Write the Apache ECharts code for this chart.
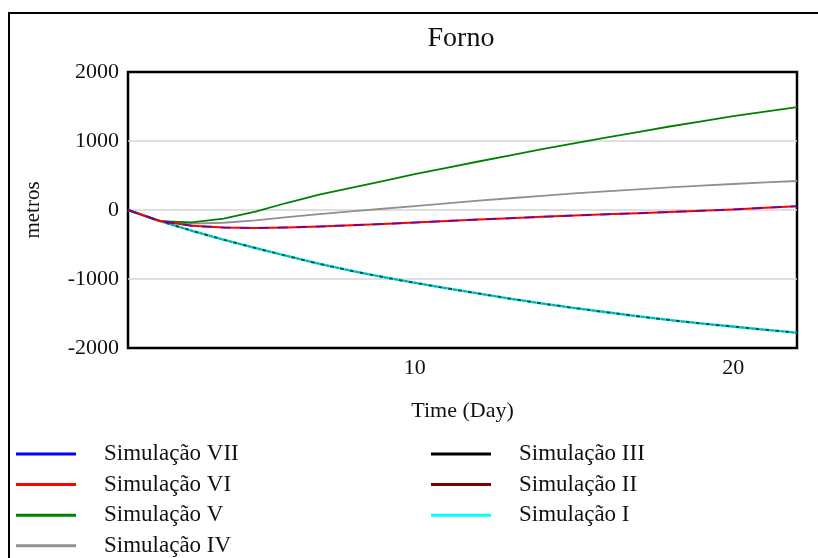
<!DOCTYPE html>
<html><head><meta charset="utf-8">
<script src="https://cdn.jsdelivr.net/npm/echarts@6/dist/echarts.min.js"></script>
<style>html,body{margin:0;padding:0;background:#fff}#c{width:818px;height:558px}</style>
</head><body><div id="c"></div>
<script>
const days = [1,2,3,4,5,6,7,8,9,10,11,12,13,14,15,16,17,18,19,20,21,22];
const xTicks = [10, 20];
const yTicks = [-2000, -1000, 0, 1000, 2000];

const simVII = [0,-160,-228,-255,-262,-253,-240,-222,-203,-182,-160,-139,-118,-99,-80,-63,-46,-29,-11,8,32,56];
const simVI  = [0,-160,-228,-255,-262,-253,-240,-222,-203,-182,-160,-139,-118,-99,-80,-63,-46,-29,-11,8,32,56];
const simV   = [0,-160,-180,-125,-25,105,222,322,418,520,612,703,793,882,966,1050,1130,1210,1285,1360,1425,1490];
const simIV  = [0,-160,-198,-185,-150,-103,-60,-20,18,55,95,135,170,205,240,270,300,328,353,377,400,420];
const simIII = [0,-160,-300,-430,-550,-668,-780,-880,-972,-1055,-1135,-1210,-1285,-1355,-1420,-1480,-1540,-1595,-1645,-1690,-1735,-1778];
const simII  = [0,-160,-300,-430,-550,-668,-780,-880,-972,-1055,-1135,-1210,-1285,-1355,-1420,-1480,-1540,-1595,-1645,-1690,-1735,-1778];
const simI   = [0,-160,-300,-430,-550,-668,-780,-880,-972,-1055,-1135,-1210,-1285,-1355,-1420,-1480,-1540,-1595,-1645,-1690,-1735,-1778];

const names = ['Simulação VII','Simulação VI','Simulação V','Simulação IV','Simulação III','Simulação II','Simulação I'];
const colors = {
  'Simulação VII':'#0000ff','Simulação VI':'#ff0000','Simulação V':'#008000','Simulação IV':'#909090',
  'Simulação III':'#000000','Simulação II':'#800000','Simulação I':'#00ffff'
};
const FONT = 'Liberation Serif';
const pairs = vals => days.map((d,i)=>[d, vals[i]]);

function line(name, vals, ls) {
  return {
    name, type:'line', data: pairs(vals), showSymbol:false, symbol:'none',
    smooth:false,
    color: colors[name],
    lineStyle: Object.assign({ color: colors[name], width:1.8, join:'round' }, ls||{})
  };
}

const series = [
  line('Simulação I', simI, {width:2.6}),
  line('Simulação II', simII, {width:2, type:[4,6], dashOffset:5, opacity:0.4}),
  line('Simulação III', simIII, {width:2, type:[4,6], opacity:0.65}),
  line('Simulação IV', simIV),
  line('Simulação V', simV),
  line('Simulação VI', simVI, {width:2}),
  line('Simulação VII', simVII, {width:2.2, type:[10,9], opacity:0.5})
];

function legendData(list) {
  return list.map(n => ({ name:n, itemStyle:{ color: colors[n], opacity:1 } }));
}
const legendCommon = {
  orient:'vertical', icon:'rect', itemWidth:60, itemHeight:3, itemGap:6.6,
  padding:0, selectedMode:false,
  textStyle:{ fontFamily:FONT, fontSize:23, color:'#111', lineHeight:24, padding:[0,0,0,23] }
};

const chart = echarts.init(document.getElementById('c'), null, {renderer:'canvas'});
chart.setOption({
  animation:false,
  backgroundColor:'#fff',
  title:{ text:'Forno', left:461, textAlign:'center', top:25, padding:0,
    textStyle:{ fontFamily:FONT, fontSize:28, fontWeight:'normal', color:'#111' } },
  grid:{ left:128, right:21, top:72, bottom:210, show:true, borderColor:'#000', borderWidth:2.5, containLabel:false },
  legend:[
    Object.assign({ left:16, top:442, data: legendData(names.slice(0,4)) }, legendCommon),
    Object.assign({ left:431, top:442, data: legendData(names.slice(4)) }, legendCommon)
  ],
  xAxis:{
    type:'value', min:1, max:22,
    name:'Time (Day)', nameLocation:'middle', nameGap:52,
    nameTextStyle:{ fontFamily:FONT, fontSize:22, color:'#111' },
    axisLine:{ show:false }, axisTick:{ show:false, customValues:xTicks },
    axisLabel:{ customValues:xTicks, fontFamily:FONT, fontSize:22, color:'#111', margin:9 },
    splitLine:{ show:true, showMinLine:false, showMaxLine:false, lineStyle:{ color:'#d4d4d4', width:1.5 } }
  },
  yAxis:{
    type:'value', min:yTicks[0], max:yTicks[yTicks.length-1], interval:1000,
    name:'metros', nameLocation:'middle', nameGap:84,
    nameTextStyle:{ fontFamily:FONT, fontSize:21, color:'#111' },
    axisLine:{ show:false }, axisTick:{ show:false },
    axisLabel:{ fontFamily:FONT, fontSize:22, color:'#111', margin:9, formatter: v => String(v) },
    splitLine:{ show:true, showMinLine:false, showMaxLine:false, lineStyle:{ color:'#d4d4d4', width:1.5 } }
  },
  graphic:[{
    type:'polyline', silent:true, z:100,
    shape:{ points:[[9,560],[9,13],[820,13]] },
    style:{ stroke:'#000', lineWidth:2, fill:null }
  }],
  series
});
</script></body></html>
